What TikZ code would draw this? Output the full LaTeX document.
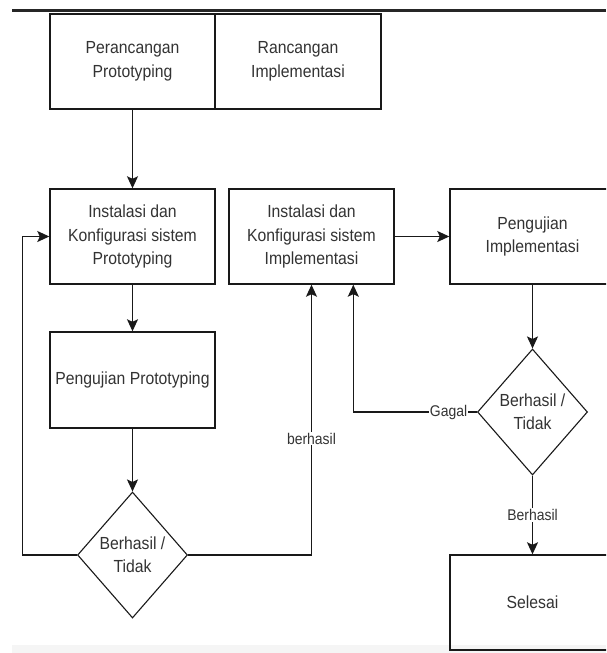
\documentclass[tikz,border=0pt]{standalone}
\usepackage{fontspec}
\setmainfont{Liberation Sans}[FakeStretch=0.9]
\usetikzlibrary{shapes.geometric,arrows.meta}
\begin{document}
\begin{tikzpicture}[x=1pt,y=-1pt,
  box/.style={draw=black!90, line width=1.4pt, rectangle, minimum width=165pt, minimum height=95pt,
    align=center, text=black!80, font=\fontsize{17.5}{23.5}\selectfont, inner sep=0pt},
  dia/.style={draw=black!90, line width=1.1pt, diamond, minimum width=110pt, minimum height=126pt,
    inner sep=-12pt, align=center, text=black!80, font=\fontsize{17.5}{23}\selectfont},
  conn/.style={draw=black!90, line width=1.3pt},
  arr/.style={conn, -{Stealth[length=12pt,width=11pt,inset=2.5pt]}},
  lbl/.style={fill=white, inner sep=1pt, text=black!80, font=\fontsize{15.5}{17}\selectfont}]
\clip (0,0) rectangle (606,653);
\fill[white] (0,0) rectangle (606,653);
\fill[black!4] (12,645) rectangle (606,653);
\draw[line width=3pt, black!85] (12,10.7) -- (606,10.7);

\node[box, minimum width=165pt] (pp) at (132.5,61.5) {Perancangan\\Prototyping};
\node[box, minimum width=166pt] (ri) at (298,61.5) {Rancangan\\Implementasi};

\node[box] (k1) at (132.5,236.5) {Instalasi dan\\Konfigurasi sistem\\Prototyping};
\node[box] (k2) at (311.5,236.5) {Instalasi dan\\Konfigurasi sistem\\Implementasi};
\node[box] (pi) at (532.5,236.5) {Pengujian\\Implementasi};
\node[box, minimum height=96pt] (pt) at (132.5,380) {Pengujian Prototyping};
\node[dia] (d1) at (132.5,555) {Berhasil /\\Tidak};
\node[dia] (d2) at (532.5,412) {Berhasil /\\Tidak};
\node[box] (sel) at (532.5,602.5) {Selesai};

\coordinate (c1) at (22.7,555);
\coordinate (c2) at (22.7,236.5);
\coordinate (c3) at (311.5,555);
\coordinate (c4) at (353.3,412);

\draw[arr] (pp.south) -- (k1.north);
\draw[arr] (k1.south) -- (pt.north);
\draw[arr] (pt.south) -- (d1.north);
\draw[arr] (d1.west) -- (c1) -- (c2) -- (k1.west);
\draw[arr] (d1.east) -- (c3) -- node[lbl, pos=0.43] (lb1) {berhasil} (k2.south);
\draw[arr] (k2.east) -- (pi.west);
\draw[arr] (pi.south) -- (d2.north);
\draw[arr] (d2.west) -- node[lbl, pos=0.23] (lb2) {Gagal} (c4) -- (c4 |- k2.south);
\draw[arr] (d2.south) -- node[lbl, pos=0.5] (lb3) {Berhasil} (sel.north);
\end{tikzpicture}
\end{document}
